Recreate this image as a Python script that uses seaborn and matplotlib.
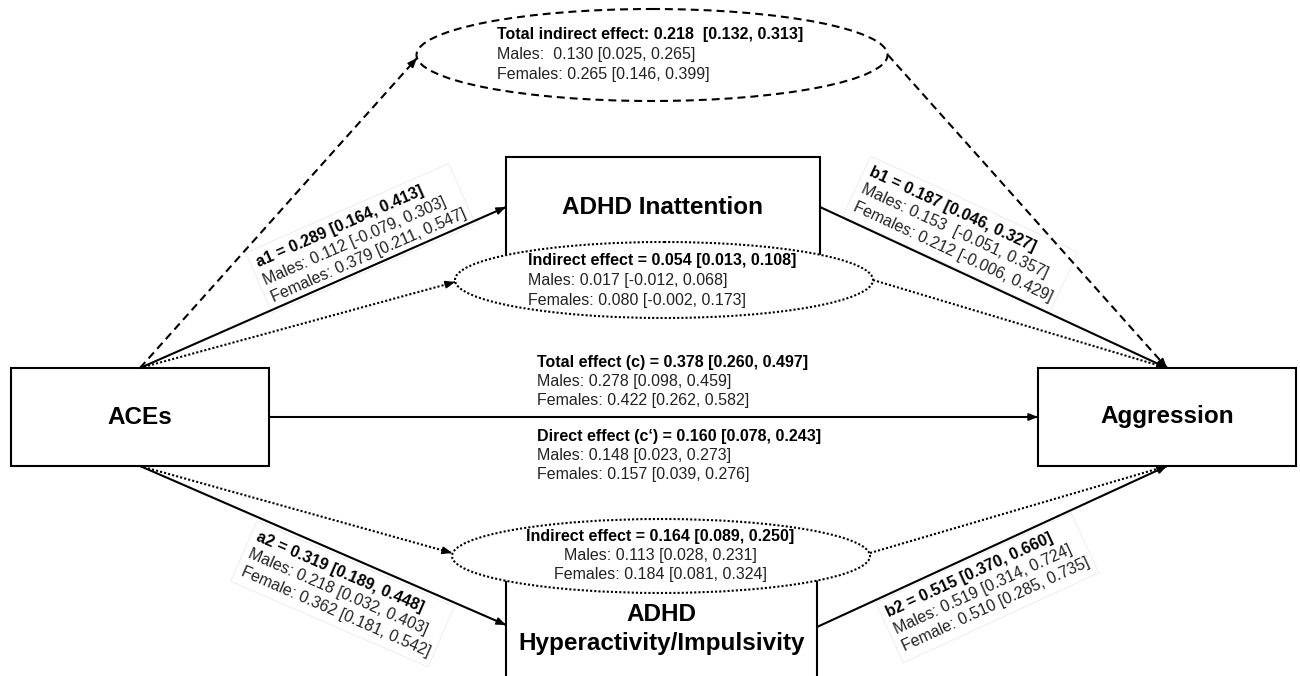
import numpy as np
import matplotlib
matplotlib.use('Agg')
import matplotlib.pyplot as plt
import seaborn as sns
from matplotlib.patches import Ellipse, Rectangle, Polygon
from matplotlib.textpath import TextPath
from matplotlib.font_manager import FontProperties


# PATH COEFFICIENTS (overall, males, females)

paths = ['a1', 'b1', 'a2', 'b2']
path_est = [0.289, 0.187, 0.319, 0.515]
path_ci = [(0.164, 0.413), (0.046, 0.327), (0.189, 0.448), (0.370, 0.660)]
path_males_est = [0.112, 0.153, 0.218, 0.519]
path_males_ci = [(-0.079, 0.303), (-0.051, 0.357), (0.032, 0.403), (0.314, 0.724)]
path_fem_est = [0.379, 0.212, 0.362, 0.510]
path_fem_ci = [(0.211, 0.547), (-0.006, 0.429), (0.181, 0.542), (0.285, 0.735)]
path_fem_word = ['Females', 'Females', 'Female', 'Female']
path_males_gap = [' ', '  ', ' ', ' ']

# EFFECTS

effects = ['Total indirect effect', 'Indirect effect', 'Indirect effect',
           'Total effect (c)', 'Direct effect (c\u2018)']
effect_sep = [': ', ' = ', ' = ', ' = ', ' = ']
effect_gap = ['  ', ' ', ' ', ' ', ' ']
effect_est = [0.218, 0.054, 0.164, 0.378, 0.160]
effect_ci = [(0.132, 0.313), (0.013, 0.108), (0.089, 0.250), (0.260, 0.497), (0.078, 0.243)]
effect_males_est = [0.130, 0.017, 0.113, 0.278, 0.148]
effect_males_ci = [(0.025, 0.265), (-0.012, 0.068), (0.028, 0.231), (0.098, 0.459), (0.023, 0.273)]
effect_fem_est = [0.265, 0.080, 0.184, 0.422, 0.157]
effect_fem_ci = [(0.146, 0.399), (-0.002, 0.173), (0.081, 0.324), (0.262, 0.582), (0.039, 0.276)]
effect_males_sep = ['  ', ' ', ' ', ' ', ' ']

# LAYOUT (pixel coordinates)

boxes = {
    'ACEs': (11, 368, 269, 466),
    'Aggression': (1038, 368, 1296, 466),
    'ADHD Inattention': (506, 157, 820, 259),
    'ADHD\nHyperactivity/Impulsivity': (506, 577, 817, 690),
}

DASH = (0, (3.8, 2.4))
DOT = (0, (1, 1))

ellipses = [
    ((652, 55), 471, 92, DASH),
    ((664, 280), 418, 76, DOT),
    ((661, 556), 418, 74, DOT),
]


def fmt(est, ci, gap=' '):
    return f'{est:.3f}{gap}[{ci[0]:.3f}, {ci[1]:.3f}]'


sns.set_style('white')
plt.rcParams['font.family'] = ['Liberation Sans', 'DejaVu Sans']

fig = plt.figure(figsize=(13, 6.76), dpi=100)
ax = fig.add_axes([0, 0, 1, 1])
ax.set_xlim(0, 1300)
ax.set_ylim(676, 0)
ax.axis('off')

# boxes
for label, (x0, y0, x1, y1) in boxes.items():
    ax.add_patch(Rectangle((x0, y0), x1 - x0, y1 - y0, fc='white',
                           ec='black', lw=1.5, zorder=1))
    yc = (y0 + y1) / 2
    if 'Hyperactivity' in label:
        yc = 629
    ax.text((x0 + x1) / 2, yc, label, ha='center', va='center',
            fontsize=17.5, fontweight='bold', zorder=5, linespacing=1.3,
            color='black')

# ellipses
for (cx, cy), w, h, ls in ellipses:
    ax.add_patch(Ellipse((cx, cy), w, h, fc='white', ec='black',
                         lw=1.5, ls=ls, zorder=3))


def arrow(p0, p1, ls='-'):
    p0 = np.array(p0, float)
    p1 = np.array(p1, float)
    u = (p1 - p0) / np.linalg.norm(p1 - p0)
    ax.plot([p0[0], p1[0]], [p0[1], p1[1]], color='black', lw=1.5,
            ls=ls, zorder=2, solid_capstyle='butt')
    ax.annotate('', xy=p1, xytext=p1 - 10 * u,
                arrowprops=dict(arrowstyle='-|>,head_length=0.55,head_width=0.22',
                                color='black', lw=1.2, shrinkA=0, shrinkB=0),
                zorder=4)


aces_top = (140, 368)
aces_bot = (140, 466)
agg_top = (1167, 368)
agg_bot = (1167, 466)

arrow(aces_top, (417, 58), DASH)
arrow((888, 55), agg_top, DASH)
arrow(aces_top, (506, 207))
arrow(aces_top, (455, 282), DOT)
arrow((820, 207), agg_top)
arrow((873, 280), agg_top, DOT)
arrow((269, 417), (1038, 417))
arrow(aces_bot, (506, 625))
arrow(aces_bot, (452, 553), DOT)
arrow((817, 627), agg_bot)
arrow((870, 553), agg_bot, DOT)

# effect text blocks
FS = 11.5
effect_pos = [(497, 35, 'left'), (528, 261, 'left'), (660, 536, 'center'),
              (537, 362, 'left'), (537, 436, 'left')]
for i, (x, y, ha) in enumerate(effect_pos):
    lines = [
        effects[i] + effect_sep[i] + fmt(effect_est[i], effect_ci[i], effect_gap[i]),
        'Males:' + effect_males_sep[i] + fmt(effect_males_est[i], effect_males_ci[i]),
        'Females: ' + fmt(effect_fem_est[i], effect_fem_ci[i]),
    ]
    for j, line in enumerate(lines):
        ax.text(x, y + j * 19.5, line, ha=ha, va='center', fontsize=FS,
                fontweight='bold' if j == 0 else 'normal', zorder=6,
                color='black' if j == 0 else '#222222')

# path coefficient labels along the arrows
path_lines = [(aces_top, (506, 207)), ((820, 207), agg_top),
              (aces_bot, (506, 625)), ((817, 627), agg_bot)]
path_start = [(258, 266), (869, 174), (257, 536), (887, 613)]
path_shift = [-3, -3, 0, 0]
for i, name in enumerate(paths):
    (x0, y0), (x1, y1) = path_lines[i]
    ang = np.degrees(np.arctan2(-(y1 - y0), x1 - x0))
    t = np.radians(ang)
    along = np.array([np.cos(t), -np.sin(t)])
    normal = np.array([np.sin(t), np.cos(t)])
    lines = [
        f'{name} = ' + fmt(path_est[i], path_ci[i]),
        'Males: ' + fmt(path_males_est[i], path_males_ci[i], path_males_gap[i]),
        f'{path_fem_word[i]}: ' + fmt(path_fem_est[i], path_fem_ci[i]),
    ]
    start = np.array(path_start[i], float) + path_shift[i] * normal
    widths = []
    for j, line in enumerate(lines):
        weight = 'bold' if j == 0 else 'normal'
        px, py = start + j * 19.0 * normal
        ax.text(px, py, line, ha='left', va='center', rotation=ang,
                rotation_mode='anchor', fontsize=FS, fontweight=weight,
                zorder=6, color='black' if j == 0 else '#222222')
        tp = TextPath((0, 0), line, size=FS,
                      prop=FontProperties(family='Liberation Sans', weight=weight))
        widths.append(tp.get_extents().x1 * 100 / 72)
    # faint frame around the label block
    u0, u1 = -6, max(widths) + 6
    n0, n1 = -14, 2 * 19.0 + 14
    corners = [start + u0 * along + n0 * normal, start + u1 * along + n0 * normal,
               start + u1 * along + n1 * normal, start + u0 * along + n1 * normal]
    ax.add_patch(Polygon(corners, closed=True, fc='none', ec='#efefef',
                         lw=0.8, zorder=1.5))

plt.savefig('out.png', dpi=100)
